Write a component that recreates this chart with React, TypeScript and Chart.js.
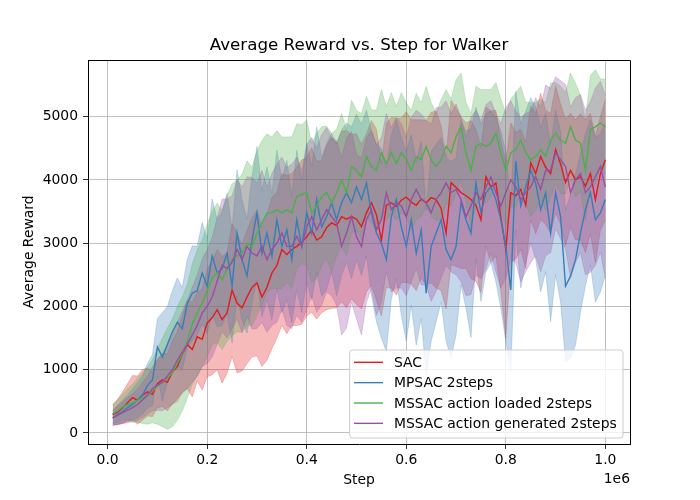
import React, { useEffect, useRef } from "react";
import { Chart, registerables } from "chart.js";

Chart.register(...registerables);

const TITLE = "Average Reward vs. Step for Walker";
const X_LABEL = "Step";
const Y_LABEL = "Average Reward";
const X_OFFSET_TEXT = "1e6";
const X_TICKS = [0, 200000, 400000, 600000, 800000, 1000000];
const Y_TICKS = [0, 1000, 2000, 3000, 4000, 5000];

const STEPS: number[] = Array.from({ length: 100 }, (_, i) => (i + 1) * 10000);

const SAC_MEAN = [
  290, 330, 400, 480, 560, 520, 600, 650, 610, 780,
  840, 800, 960, 1050, 1250, 1400, 1320, 1520, 1480, 1740,
  1820, 1950, 1790, 1900, 2260, 2050, 1980, 2150, 2300, 2370,
  2150, 2300, 2530, 2650, 2900, 2820, 2900, 2950, 3020, 3100,
  3210, 3050, 3100, 3250, 3320, 3280, 3420, 3380, 3420, 3380,
  3260, 3480, 3640, 3450, 3050, 3600, 3640, 3580, 3680, 3730,
  3650, 3600, 3700, 3640, 3720, 3690, 3550, 3160, 3960, 3880,
  3800, 3750, 3690, 3600, 3370, 4050, 3890, 3950, 3420, 2900,
  3800, 3750, 3850, 3600, 4270, 4100, 4370, 4200, 4100, 4480,
  4250, 3960, 4150, 4000, 4050, 3900, 4100, 3690, 4100, 4320,
];
const SAC_STD = [
  150, 200, 250, 300, 350, 380, 400, 380, 350, 380,
  420, 450, 500, 550, 600, 700, 750, 700, 800, 850,
  900, 950, 1000, 950, 1050, 1100, 1000, 1050, 1100, 1150,
  1100, 1150, 1200, 1150, 1200, 1250, 1200, 1250, 1300, 1250,
  1300, 1250, 1200, 1300, 1350, 1300, 1350, 1400, 1300, 1350,
  1300, 1250, 1300, 1350, 1200, 1300, 1350, 1400, 1300, 1350,
  1300, 1350, 1250, 1300, 1350, 1400, 1300, 1200, 1300, 1250,
  1200, 1150, 1250, 1200, 1150, 1100, 1200, 1150, 1200, 1400,
  1100, 1000, 950, 1000, 900, 950, 1000, 900, 950, 1000,
  950, 1000, 900, 950, 1000, 1050, 950, 1000, 900, 950,
];

const MPSAC_MEAN = [
  240, 290, 340, 400, 450, 520, 600, 750, 840, 1360,
  1200, 1400, 1600, 1750, 1650, 2050, 2210, 2250, 2530, 2320,
  2800, 2530, 2600, 2840, 2320, 3160, 2740, 2480, 3050, 3480,
  2840, 3160, 2790, 3370, 2950, 3210, 2740, 3370, 2950, 3480,
  3160, 3690, 3260, 3420, 3640, 3370, 3640, 3800, 3640, 3890,
  3690, 3950, 3480, 3160, 3000, 2740, 3420, 3690, 3260, 2950,
  3370, 2840, 3210, 2210, 2950, 3160, 3370, 2900, 2740, 2950,
  3640, 3370, 3160, 3950, 3480, 3800, 3890, 3690, 3370, 2950,
  2260, 4300, 3590, 3890, 4150, 3950, 3530, 3800, 3160, 3800,
  3420, 2320, 2480, 2740, 3160, 3530, 3800, 3370, 3480, 3690,
];
const MPSAC_STD = [
  120, 150, 180, 200, 250, 280, 300, 350, 400, 450,
  700, 600, 650, 700, 650, 700, 750, 700, 800, 750,
  900, 850, 900, 950, 900, 1000, 950, 900, 1000, 1050,
  1000, 1050, 1000, 1100, 1050, 1100, 1000, 1100, 1050, 1100,
  1050, 1150, 1100, 1150, 1100, 1200, 1150, 1100, 1200, 1150,
  1200, 1150, 1300, 1400, 1500, 1450, 1300, 1250, 1400, 1500,
  1350, 1450, 1400, 1300, 1500, 1400, 1300, 1450, 1550, 1400,
  1300, 1400, 1650, 1200, 1400, 1250, 1200, 1300, 1400, 1500,
  1300, 1100, 1300, 1200, 1150, 1200, 1300, 1250, 1400, 1300,
  1350, 1200, 1300, 1350, 1250, 1200, 1150, 1300, 1250, 1200,
];

const LOADED_MEAN = [
  300, 350, 410, 450, 470, 520, 550, 590, 660, 740,
  800, 860, 950, 1100, 1250, 1450, 1720, 1900, 2050, 2250,
  2450, 2530, 2420, 2600, 2740, 2800, 2840, 3000, 2950, 3160,
  3320, 3480, 3480, 3530, 3480, 3530, 3480, 3740, 3770, 3800,
  3480, 3590, 3740, 3800, 3640, 3800, 4000, 3800, 4210, 4150,
  4050, 4370, 4210, 4150, 4430, 4260, 4430, 4260, 4430, 4320,
  4150, 4370, 4320, 4530, 4320, 4210, 4320, 4530, 4430, 4680,
  4840, 4430, 4150, 4530, 4580, 4530, 4580, 4740, 4430, 4150,
  4430, 4480, 4630, 4430, 4320, 4370, 4480, 4370, 4630, 4740,
  4630, 4580, 4840, 4630, 4580, 4150, 4800, 4840, 4900, 4840,
];
const LOADED_STD = [
  150, 180, 200, 250, 300, 350, 400, 450, 500, 600,
  700, 800, 850, 900, 900, 900, 950, 1000, 1000, 1050,
  1050, 1100, 1100, 1150, 1200, 1200, 1250, 1300, 1250, 1300,
  1300, 1250, 1200, 1250, 1200, 1150, 1200, 1150, 1100, 1150,
  1100, 1150, 1100, 1050, 1100, 1000, 1050, 1000, 1050, 950,
  1000, 950, 900, 950, 1000, 900, 950, 900, 950, 900,
  950, 1000, 900, 950, 900, 850, 950, 900, 850, 900,
  850, 800, 900, 950, 850, 900, 850, 800, 850, 900,
  850, 900, 850, 800, 900, 850, 800, 850, 900, 800,
  850, 800, 850, 900, 750, 800, 850, 900, 700, 750,
];

const GENERATED_MEAN = [
  240, 280, 320, 360, 400, 450, 520, 600, 700, 760,
  800, 900, 1000, 1150, 1280, 1400, 1550, 1700, 1900, 2000,
  2150, 2400, 2650, 2600, 2700, 2900, 2740, 2950, 2840, 2800,
  2950, 2740, 2900, 3000, 3160, 2950, 2950, 3110, 2950, 3260,
  3420, 3210, 3370, 3530, 3420, 3320, 2950, 3160, 3420, 3100,
  2950, 3370, 3530, 3210, 3370, 3800, 3530, 3640, 3590, 3420,
  3690, 3850, 3690, 3640, 3480, 3690, 3800, 3950, 3800, 3850,
  3690, 3420, 3590, 3800, 3690, 3890, 4050, 3800, 3590, 3800,
  4000, 3890, 3690, 3800, 3890, 4050, 3850, 4150, 4150, 4430,
  4320, 4210, 3800, 4000, 4100, 3800, 3890, 4050, 4210, 3890,
];
const GENERATED_STD = [
  120, 150, 170, 200, 220, 250, 280, 300, 350, 400,
  450, 500, 550, 600, 650, 700, 750, 800, 850, 900,
  950, 1000, 1050, 1100, 1050, 1100, 1150, 1100, 1200, 1150,
  1200, 1150, 1200, 1250, 1200, 1250, 1300, 1250, 1200, 1300,
  1250, 1300, 1350, 1300, 1250, 1300, 1400, 1500, 1350, 1300,
  1400, 1300, 1250, 1350, 1300, 1250, 1300, 1350, 1300, 1250,
  1300, 1250, 1350, 1300, 1400, 1450, 1350, 1300, 1250, 1350,
  1300, 1250, 1400, 1300, 1250, 1300, 1200, 1250, 1300, 1350,
  1250, 1200, 1300, 1250, 1200, 1250, 1300, 1350, 1300, 1200,
  1250, 1300, 1350, 1300, 1250, 1300, 1350, 1400, 1350, 1450,
];

const SERIES = [
  { label: "SAC", color: "#e41a1c", rgb: "228,26,28", mean: SAC_MEAN, std: SAC_STD },
  { label: "MPSAC 2steps", color: "#377eb8", rgb: "55,126,184", mean: MPSAC_MEAN, std: MPSAC_STD },
  { label: "MSSAC action loaded 2steps", color: "#4daf4a", rgb: "77,175,74", mean: LOADED_MEAN, std: LOADED_STD },
  { label: "MSSAC action generated 2steps", color: "#984ea3", rgb: "152,78,163", mean: GENERATED_MEAN, std: GENERATED_STD },
];

const FONT = '"DejaVu Sans", "Liberation Sans", sans-serif';

const alignPx = (p: number) => Math.round(p - 0.5) + 0.5;

const textPlugin = {
  id: "mplText",
  afterDatasetsDraw(chart: any) {
    const ctx = chart.ctx as CanvasRenderingContext2D;
    const a = chart.chartArea;
    ctx.save();
    ctx.strokeStyle = "#000";
    ctx.lineWidth = 1;
    ctx.beginPath();
    const l = alignPx(a.left);
    const r = alignPx(a.right);
    const t = alignPx(a.top);
    const b = alignPx(a.bottom);
    ctx.moveTo(l, t);
    ctx.lineTo(r, t);
    ctx.lineTo(r, b);
    ctx.stroke();
    ctx.restore();
  },
  afterDraw(chart: any) {
    const ctx = chart.ctx as CanvasRenderingContext2D;
    const a = chart.chartArea;
    const cx = (a.left + a.right) / 2;
    ctx.save();
    ctx.fillStyle = "#000";
    ctx.textAlign = "center";
    ctx.textBaseline = "middle";
    ctx.font = `16.7px ${FONT}`;
    ctx.fillText(TITLE, cx, 46);
    ctx.font = `13.9px ${FONT}`;
    ctx.fillText(X_LABEL, cx, 480);
    ctx.textAlign = "right";
    ctx.fillText(X_OFFSET_TEXT, a.right, 479);
    ctx.save();
    ctx.translate(29, (a.top + a.bottom) / 2);
    ctx.rotate(-Math.PI / 2);
    ctx.textAlign = "center";
    ctx.fillText(Y_LABEL, 0, 0);
    ctx.restore();

    // legend
    ctx.font = `13.9px ${FONT}`;
    let maxW = 0;
    SERIES.forEach((s) => {
      maxW = Math.max(maxW, ctx.measureText(s.label).width);
    });
    const right = a.right - 7;
    const bottom = a.bottom - 6;
    const top = bottom - 88;
    const width = 4.3 + 29 + 11 + maxW + 6.3;
    const left = right - width;
    ctx.beginPath();
    (ctx as any).roundRect(left, top, width, bottom - top, 3);
    ctx.fillStyle = "rgba(255,255,255,0.8)";
    ctx.fill();
    ctx.strokeStyle = "#cccccc";
    ctx.lineWidth = 1;
    ctx.stroke();
    ctx.textAlign = "left";
    ctx.textBaseline = "middle";
    SERIES.forEach((s, k) => {
      const y = top + 12.3 + k * 20.35;
      ctx.beginPath();
      ctx.moveTo(left + 4.3, y);
      ctx.lineTo(left + 33.3, y);
      ctx.strokeStyle = s.color;
      ctx.lineWidth = 1.4;
      ctx.stroke();
      ctx.fillStyle = "#000";
      ctx.fillText(s.label, left + 44.3, y + 1);
    });
    ctx.restore();
  },
};

export default function App() {
  const ref = useRef<HTMLCanvasElement>(null);
  useEffect(() => {
    document.body.style.margin = "0";
    const canvas = ref.current;
    if (!canvas) return;
    const bands: any[] = [];
    const lines: any[] = [];
    let bandOrder = 100;
    SERIES.forEach((s, k) => {
      const band = `rgba(${s.rgb},0.3)`;
      bands.push({
        label: s.label + " upper",
        data: STEPS.map((x, i) => ({ x, y: s.mean[i] + s.std[i] })),
        borderColor: band,
        backgroundColor: band,
        borderWidth: 0.8,
        pointRadius: 0,
        tension: 0,
        fill: "+1",
        order: bandOrder--,
      });
      bands.push({
        label: s.label + " lower",
        data: STEPS.map((x, i) => ({ x, y: s.mean[i] - s.std[i] })),
        borderColor: band,
        backgroundColor: band,
        borderWidth: 0.8,
        pointRadius: 0,
        tension: 0,
        fill: false,
        order: bandOrder--,
      });
      lines.push({
        label: s.label,
        data: STEPS.map((x, i) => ({ x, y: s.mean[i] })),
        borderColor: s.color,
        backgroundColor: s.color,
        borderWidth: 1.4,
        pointRadius: 0,
        tension: 0,
        fill: false,
        order: 10 - k,
      });
    });
    const datasets = [...bands, ...lines];

    const tickFont = { family: FONT, size: 13.9 };
    const grid = {
      color: "#b0b0b0",
      lineWidth: 0.8,
      tickColor: "#000",
      tickLength: 5,
    };
    const chart = new Chart(canvas, {
      type: "line",
      data: { datasets },
      plugins: [textPlugin],
      options: {
        animation: false,
        responsive: false,
        maintainAspectRatio: false,
        layout: { padding: { top: 60, right: 70, left: 0, bottom: 0 } },
        plugins: {
          legend: { display: false },
          title: { display: false },
          tooltip: { enabled: false },
        },
        scales: {
          x: {
            type: "linear",
            min: -39500,
            max: 1049500,
            afterFit: (s: any) => {
              s.height = 56;
            },
            afterBuildTicks: (s: any) => {
              s.ticks = X_TICKS.map((v) => ({ value: v }));
            },
            ticks: {
              maxRotation: 0,
              autoSkip: false,
              color: "#000",
              font: tickFont,
              padding: 3,
              callback: (v: any) => (Number(v) / 1e6).toFixed(1),
            },
            grid,
            border: { color: "#000", width: 1 },
          },
          y: {
            type: "linear",
            min: -174,
            max: 5896,
            afterFit: (s: any) => {
              s.width = 88;
            },
            afterBuildTicks: (s: any) => {
              s.ticks = Y_TICKS.map((v) => ({ value: v }));
            },
            ticks: {
              autoSkip: false,
              color: "#000",
              font: tickFont,
              padding: 5,
              callback: (v: any) => String(v),
            },
            grid,
            border: { color: "#000", width: 1 },
          },
        },
      },
    } as any);
    return () => chart.destroy();
  }, []);
  return (
    <canvas
      ref={ref}
      width={700}
      height={500}
      style={{ display: "block", width: 700, height: 500 }}
    />
  );
}
